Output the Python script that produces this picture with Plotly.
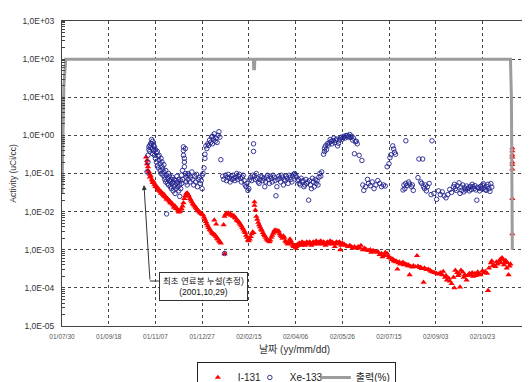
import plotly.graph_objects as go
import pandas as pd

START = "2001-07-30"

# ---- data (days since 2001-07-30, activity uCi/cc) ----
i131_day = [
    90, 91, 91, 92, 92, 93, 94, 94, 95, 96,
    97, 97, 98, 99, 100, 100, 101, 102, 103, 103,
    104, 105, 106, 106, 107, 108, 109, 109, 110, 111,
    112, 112, 113, 114, 115, 116, 116, 117, 118, 119,
    120, 120, 121, 122, 123, 124, 125, 125, 126, 127,
    128, 129, 130, 131, 132, 133, 134, 135, 136, 137,
    138, 139, 140, 141, 142, 143, 144, 145, 146, 147,
    148, 149, 150, 151, 152, 153, 154, 155, 156, 157,
    158, 159, 160, 161, 162, 163, 164, 165, 166, 167,
    168, 169, 170, 163, 165, 174, 173, 174, 175, 176,
    177, 178, 179, 180, 181, 182, 183, 184, 185, 186,
    187, 188, 189, 190, 191, 192, 193, 194, 195, 196,
    197, 198, 199, 200, 201, 202, 203, 204, 205, 206,
    206, 207, 208, 209, 210, 211, 212, 213, 214, 215,
    216, 217, 218, 219, 220, 221, 222, 223, 224, 225,
    226, 227, 228, 229, 230, 231, 232, 233, 234, 235,
    236, 237, 238, 239, 240, 241, 242, 243, 244, 245,
    246, 247, 248, 249, 250, 251, 252, 253, 254, 255,
    256, 257, 258, 259, 260, 261, 262, 263, 264, 265,
    266, 267, 268, 269, 270, 271, 272, 273, 274, 275,
    276, 277, 278, 279, 280, 281, 282, 283, 284, 285,
    286, 287, 288, 289, 290, 291, 292, 293, 294, 295,
    296, 297, 298, 299, 300, 302, 304, 306, 308, 310,
    311, 313, 315, 317, 319, 320, 322, 324, 326, 328,
    330, 331, 333, 335, 337, 338, 340, 342, 343, 345,
    346, 348, 349, 350, 352, 353, 354, 355, 356, 357,
    358, 359, 360, 361, 362, 364, 365, 366, 367, 369,
    370, 371, 372, 373, 375, 376, 378, 380, 381, 383,
    384, 385, 387, 388, 390, 392, 394, 395, 397, 399,
    401, 403, 405, 407, 408, 410, 411, 412, 414, 415,
    417, 419, 420, 421, 423, 424, 425, 426, 427, 429,
    430, 431, 433, 434, 436, 437, 439, 440, 442, 443,
    445, 446, 448, 450, 451, 453, 455, 456, 457, 459,
    460, 461, 462, 464, 465, 466, 468, 469, 470, 471,
    472, 473, 474, 475, 476, 477, 478, 479, 480, 482,
    482, 482, 482, 482, 482, 482, 482, 482,
]
i131_val = [
    0.27, 0.22, 0.18, 0.15, 0.12, 0.11, 0.095, 0.08, 0.085, 0.07,
    0.065, 0.058, 0.06, 0.052, 0.05, 0.045, 0.046, 0.042, 0.04, 0.036,
    0.037, 0.034, 0.033, 0.03, 0.031, 0.028, 0.029, 0.026, 0.025, 0.024,
    0.023, 0.021, 0.022, 0.02, 0.019, 0.018, 0.017, 0.017, 0.016, 0.015,
    0.014, 0.013, 0.014, 0.012, 0.012, 0.011, 0.0105, 0.0097, 0.01, 0.0115,
    0.012, 0.014, 0.017, 0.022, 0.026, 0.03, 0.031, 0.028, 0.025, 0.022,
    0.02, 0.018, 0.016, 0.015, 0.014, 0.013, 0.012, 0.011, 0.0105, 0.0098,
    0.0093, 0.009, 0.0085, 0.0082, 0.0072, 0.0063, 0.0055, 0.0048, 0.0042, 0.0038,
    0.0034, 0.0032, 0.0029, 0.0027, 0.0026, 0.0025, 0.0024, 0.0022, 0.002, 0.0019,
    0.0017, 0.0016, 0.0015, 0.006, 0.0047, 0.00078, 0.0045, 0.0075, 0.0085, 0.009,
    0.0088, 0.0092, 0.0085, 0.0088, 0.008, 0.0082, 0.0075, 0.0078, 0.007, 0.0068,
    0.006, 0.0058, 0.0055, 0.005, 0.0046, 0.0042, 0.0038, 0.0035, 0.0031, 0.0028,
    0.0024, 0.0021, 0.0018, 0.0017, 0.0019, 0.0022, 0.0026, 0.0029, 0.0028, 0.0145,
    0.018, 0.011, 0.0075, 0.0063, 0.0052, 0.0045, 0.004, 0.0035, 0.0032, 0.0028,
    0.0025, 0.0023, 0.0021, 0.0019, 0.0018, 0.0017, 0.0016, 0.0018, 0.0021, 0.0024,
    0.0027, 0.0031, 0.0033, 0.003, 0.0032, 0.0029, 0.0031, 0.0026, 0.0024, 0.0022,
    0.002, 0.0023, 0.0021, 0.0017, 0.0016, 0.0015, 0.0014, 0.0016, 0.0019, 0.0017,
    0.0015, 0.0013, 0.0012, 0.0013, 0.0011, 0.0012, 0.0014, 0.0013, 0.0015, 0.0014,
    0.0013, 0.0016, 0.0014, 0.0015, 0.0013, 0.0014, 0.0016, 0.0015, 0.0014, 0.0016,
    0.0015, 0.0013, 0.0015, 0.0016, 0.0014, 0.0015, 0.0017, 0.0015, 0.0014, 0.0016,
    0.0015, 0.0017, 0.0015, 0.0014, 0.0016, 0.0015, 0.0013, 0.0015, 0.0016, 0.0014,
    0.0015, 0.0017, 0.0015, 0.0016, 0.0014, 0.0015, 0.0012, 0.0015, 0.0016, 0.0014,
    0.0015, 0.0016, 0.001, 0.0013, 0.0015, 0.0014, 0.0013, 0.0012, 0.0013, 0.0012,
    0.0011, 0.0012, 0.0011, 0.0012, 0.0011, 0.0013, 0.001, 0.0011, 0.001, 0.00095,
    0.001, 0.00085, 0.00095, 0.0009, 0.00085, 0.0009, 0.00075, 0.0008, 0.00065, 0.0007,
    0.00085, 0.0008, 0.0007, 0.00062, 0.0006, 0.00055, 0.00057, 0.0005, 0.00052, 0.00048,
    0.0005, 0.00031, 0.00045, 0.00048, 0.00042, 0.00045, 0.00047, 0.0004, 0.00043, 0.00041,
    0.00038, 0.0004, 0.00022, 0.00037, 0.00035, 0.00038, 0.00036, 0.0007, 0.00037, 0.00034,
    0.00035, 0.00032, 0.00014, 0.00033, 0.0003, 0.00031, 0.00029, 0.00027, 0.00026, 0.00025,
    0.00024, 0.00023, 0.00025, 0.00022, 0.00027, 0.00019, 0.00021, 0.00016, 0.00018, 0.00015,
    0.00013, 0.00019, 0.0001, 0.00029, 0.00025, 0.00021, 0.00023, 0.000105, 0.00029, 0.00026,
    0.00019, 0.00022, 0.00016, 0.00021, 0.00024, 0.00022, 0.00025, 0.0002, 0.00024, 0.00021,
    0.00026, 0.00023, 0.00022, 0.00028, 0.00025, 0.00027, 0.00024, 0.000085, 0.00033, 0.00045,
    0.00051, 0.00038, 0.0004, 0.00036, 0.00048, 0.00042, 0.0005, 0.00056, 0.00045, 0.00062,
    0.00055, 0.0004, 0.00047, 0.00052, 0.00033, 0.00045, 0.00022, 0.00037, 0.00042, 0.47,
    0.39, 0.31, 0.27, 0.2, 0.17, 0.13, 0.022, 0.0026,
]

xe133_day = [
    91, 92, 92, 93, 93, 94, 94, 95, 95, 96,
    96, 97, 97, 97, 98, 98, 99, 99, 100, 100,
    101, 101, 102, 102, 103, 103, 104, 104, 105, 105,
    106, 106, 107, 107, 108, 108, 109, 109, 110, 110,
    111, 111, 112, 112, 113, 113, 114, 114, 115, 115,
    116, 116, 117, 117, 118, 118, 119, 119, 120, 120,
    121, 121, 122, 122, 123, 123, 124, 124, 125, 125,
    126, 126, 127, 127, 128, 128, 129, 129, 130, 130,
    130, 131, 131, 131, 132, 132, 133, 133, 134, 134,
    135, 135, 136, 137, 138, 139, 140, 141, 142, 143,
    144, 145, 146, 147, 148, 149, 150, 150, 151, 152,
    153, 153, 154, 155, 156, 157, 158, 159, 160, 161,
    161, 162, 163, 164, 165, 166, 167, 168, 169, 170,
    172, 173, 174, 175, 176, 177, 178, 179, 180, 181,
    182, 183, 184, 185, 186, 187, 188, 189, 190, 191,
    192, 193, 194, 195, 196, 197, 198, 199, 200, 201,
    202, 203, 204, 205, 205, 206, 207, 208, 209, 210,
    211, 212, 213, 214, 215, 216, 217, 218, 219, 220,
    221, 222, 223, 224, 225, 226, 227, 228, 229, 230,
    231, 232, 233, 234, 235, 236, 237, 238, 239, 240,
    241, 242, 243, 244, 245, 246, 247, 248, 249, 250,
    251, 252, 253, 254, 255, 256, 257, 258, 259, 260,
    261, 262, 263, 264, 265, 266, 267, 268, 269, 270,
    271, 272, 273, 274, 275, 276, 277, 278, 280, 281,
    281, 282, 283, 284, 285, 286, 287, 288, 289, 290,
    291, 292, 293, 294, 295, 296, 297, 298, 299, 300,
    301, 302, 303, 304, 305, 306, 307, 308, 309, 310,
    311, 312, 313, 314, 315, 316, 318, 321, 322, 323,
    325, 327, 328, 330, 332, 334, 336, 338, 340, 342,
    344, 346, 348, 350, 351, 352, 354, 355, 356, 357,
    365, 366, 367, 368, 368, 369, 371, 372, 374, 376,
    375, 381, 382, 386, 384, 385, 387, 388, 389, 390,
    391, 393, 395, 396, 398, 401, 403, 405, 407, 409,
    411, 413, 415, 417, 419, 420, 421, 422, 423, 425,
    426, 427, 428, 429, 430, 431, 432, 433, 434, 435,
    436, 437, 438, 439, 440, 441, 442, 443, 444, 445,
    446, 447, 448, 449, 450, 451, 452, 453, 454, 455,
    456, 457, 458, 459, 460,
]
xe133_val = [
    0.11, 0.2, 0.3, 0.42, 0.5, 0.55, 0.38, 0.62, 0.48, 0.78,
    0.6, 0.7, 0.45, 0.33, 0.55, 0.4, 0.5, 0.3, 0.42, 0.25,
    0.35, 0.2, 0.38, 0.16, 0.28, 0.14, 0.22, 0.3, 0.12, 0.18,
    0.25, 0.1, 0.15, 0.2, 0.09, 0.13, 0.11, 0.17, 0.08, 0.07,
    0.12, 0.06, 0.0087, 0.09, 0.055, 0.075, 0.1, 0.05, 0.065, 0.085,
    0.045, 0.06, 0.07, 0.04, 0.055, 0.08, 0.035, 0.06, 0.045, 0.07,
    0.05, 0.03, 0.065, 0.04, 0.055, 0.085, 0.045, 0.06, 0.035, 0.07,
    0.05, 0.025, 0.065, 0.04, 0.09, 0.055, 0.12, 0.07, 0.5, 0.4,
    0.3, 0.25, 0.2, 0.15, 0.45, 0.1, 0.08, 0.06, 0.09, 0.05,
    0.07, 0.1, 0.09, 0.06, 0.08, 0.11, 0.07, 0.05, 0.085, 0.06,
    0.095, 0.045, 0.07, 0.08, 0.055, 0.065, 0.04, 0.09, 0.1, 0.14,
    0.25, 0.32, 0.53, 0.45, 0.6, 0.55, 0.75, 0.65, 0.9, 0.95,
    0.6, 0.8, 1.1, 0.7, 0.85, 0.65, 1.0, 1.25, 0.9, 0.23,
    0.085, 0.07, 0.0008, 0.09, 0.065, 0.08, 0.095, 0.075, 0.06, 0.085,
    0.07, 0.09, 0.075, 0.065, 0.08, 0.1, 0.07, 0.085, 0.095, 0.075,
    0.06, 0.08, 0.09, 0.065, 0.05, 0.045, 0.055, 0.036, 0.04, 0.07,
    0.08, 0.065, 0.09, 0.6, 0.38, 0.085, 0.07, 0.1, 0.075, 0.06,
    0.055, 0.07, 0.085, 0.08, 0.065, 0.075, 0.045, 0.06, 0.08, 0.09,
    0.07, 0.055, 0.085, 0.075, 0.06, 0.09, 0.08, 0.065, 0.026, 0.045,
    0.07, 0.085, 0.075, 0.06, 0.09, 0.08, 0.05, 0.07, 0.065, 0.085,
    0.075, 0.055, 0.09, 0.08, 0.07, 0.06, 0.085, 0.095, 0.1, 0.09,
    0.08, 0.065, 0.07, 0.055, 0.05, 0.075, 0.06, 0.065, 0.045, 0.05,
    0.07, 0.055, 0.06, 0.02, 0.065, 0.05, 0.04, 0.075, 0.06, 0.045,
    0.07, 0.055, 0.065, 0.05, 0.08, 0.1, 0.085, 0.11, 0.32, 0.38,
    0.46, 0.53, 0.42, 0.6, 0.55, 0.64, 0.78, 0.7, 0.6, 0.72,
    0.85, 0.65, 0.75, 0.8, 0.53, 0.62, 0.75, 0.85, 0.9, 0.8,
    0.88, 0.95, 0.85, 0.98, 1.0, 0.9, 0.95, 1.05, 0.88, 0.95,
    0.75, 0.85, 0.33, 0.68, 0.7, 0.6, 0.3, 0.22, 0.05, 0.036,
    0.045, 0.07, 0.055, 0.048, 0.06, 0.04, 0.05, 0.065, 0.055, 0.045,
    0.05, 0.047, 0.15, 0.18, 0.26, 0.31, 0.53, 0.44, 0.36, 0.32,
    0.037, 0.05, 0.04, 0.72, 0.055, 0.048, 0.06, 0.053, 0.045, 0.036,
    0.05, 0.078, 0.24, 0.24, 0.06, 0.055, 0.045, 0.04, 0.05, 0.035,
    0.045, 0.055, 0.028, 0.72, 0.03, 0.021, 0.035, 0.028, 0.033, 0.026,
    0.023, 0.028, 0.038, 0.032, 0.045, 0.052, 0.04, 0.036, 0.048, 0.057,
    0.03, 0.044, 0.036, 0.05, 0.033, 0.042, 0.037, 0.047, 0.04, 0.042,
    0.035, 0.046, 0.038, 0.052, 0.045, 0.04, 0.048, 0.037, 0.02, 0.043,
    0.041, 0.035, 0.046, 0.04, 0.05, 0.054, 0.042, 0.038, 0.036, 0.045,
    0.052, 0.04, 0.034, 0.054, 0.044,
]

power_day = [0, 1, 2, 4, 204.8, 205.2, 206.0, 206.4, 480, 481, 482]
power_val = [0.03, 1, 20, 100, 100, 56, 56, 100, 100, 10, 0.001]

tick_dates = ["2001-07-30", "2001-09-18", "2001-11-07", "2001-12-27", "2002-02-15",
              "2002-04-06", "2002-05-26", "2002-07-15", "2002-09-03", "2002-10-23"]
tick_labels = ["01/07/30", "01/09/18", "01/11/07", "01/12/27", "02/02/15",
               "02/04/06", "02/05/26", "02/07/15", "02/09/03", "02/10/23"]
y_ticks = [1e-5, 1e-4, 1e-3, 1e-2, 1e-1, 1e0, 1e1, 1e2, 1e3]
y_labels = ["1,0E-05", "1,0E-04", "1,0E-03", "1,0E-02", "1,0E-01",
            "1,0E+00", "1,0E+01", "1,0E+02", "1,0E+03"]


def to_date(days):
    return pd.Timestamp(START) + pd.to_timedelta(pd.Series(days, dtype=float), unit="D")


FONT = "Liberation Sans, Noto Sans CJK KR, sans-serif"

fig = go.Figure()
fig.add_trace(go.Scatter(
    x=to_date(i131_day), y=i131_val, mode="markers", name="I-131", legendwidth=7,
    marker=dict(symbol="triangle-up", size=5.5, color="#ff0000", line=dict(width=0)),
))
fig.add_trace(go.Scatter(
    x=to_date(xe133_day), y=xe133_val, mode="markers", name="Xe-133", legendwidth=21,
    marker=dict(symbol="circle-open", size=4.5, color="#22228f", line=dict(width=0.9)),
))
fig.add_trace(go.Scatter(
    x=to_date(power_day), y=power_val, mode="lines", name="출력(%)",
    line=dict(color="#9c9c9c", width=3),
))

x_end = pd.Timestamp(START) + pd.Timedelta(days=497.7)

fig.update_xaxes(
    type="date", range=[pd.Timestamp(START), x_end], automargin=False,
    tickmode="array", tickvals=tick_dates, ticktext=tick_labels,
    tickfont=dict(size=6.5, color="#555", family=FONT),
    showgrid=True, gridcolor="#444", griddash="dot", gridwidth=1,
    showline=True, linecolor="#444", linewidth=1, mirror=True,
    ticks="", ticklabelstandoff=4, zeroline=False,
    title=dict(text="날짜 (yy/mm/dd)", font=dict(size=10, color="#333", family=FONT), standoff=7),
)
fig.update_yaxes(
    type="log", range=[-5, 3], automargin=False,
    tickmode="array", tickvals=y_ticks, ticktext=y_labels,
    tickfont=dict(size=8.5, color="#333", family=FONT),
    showgrid=True, gridcolor="#444", griddash="dot", gridwidth=1,
    showline=True, linecolor="#444", linewidth=1, mirror=True,
    ticks="", ticklabelstandoff=5, zeroline=False,
    minor=dict(ticks="inside", ticklen=3, tickcolor="#444", dtick="D1", showgrid=False),
    title=dict(text="Activity (uCi/cc)", font=dict(size=8.5, color="#333", family=FONT), standoff=4),
)

fig.update_layout(
    width=522, height=374,
    margin=dict(l=54, r=3, t=13, b=56, autoexpand=False),
    paper_bgcolor="white", plot_bgcolor="white",
    font=dict(family=FONT, color="#222"),
    showlegend=True,
    legend=dict(
        orientation="h", x=0.29, xanchor="left", y=-0.118, yanchor="top",
        bgcolor="white", bordercolor="#222", borderwidth=1,
        font=dict(size=10, family=FONT, color="#222"), itemwidth=30,
    ),
    shapes=[
        dict(type="rect", xref="paper", yref="paper", x0=1.0, x1=1.01, y0=-0.2, y1=1.1,
             fillcolor="#e4e4e4", line=dict(width=0), layer="below"),
        dict(type="line", xref="paper", yref="paper", x0=1.002, x1=1.002, y0=0, y1=1,
             line=dict(color="#aaaaaa", width=2)),
        dict(type="line", xref="paper", yref="paper", x0=0.189, x1=0.2108, y0=0.1475, y1=0.1475,
             line=dict(color="#333", width=1)),
    ],
    annotations=[
        dict(xref="paper", yref="paper", x=0.305, y=0.128, xanchor="center", yanchor="middle",
             showarrow=False, text="최초 연료봉 누설(추정)<br>(2001,10,29)", align="center",
             font=dict(size=8.5, color="#111", family=FONT),
             bordercolor="#333", borderwidth=1, borderpad=3, bgcolor="white"),
        dict(xref="paper", yref="paper", x=0.1763, y=0.4623, text="", showarrow=True,
             ax=6, ay=96, arrowhead=2, arrowsize=1, arrowwidth=1, arrowcolor="#333", standoff=0),
    ],
)

fig.write_html("out.html")
